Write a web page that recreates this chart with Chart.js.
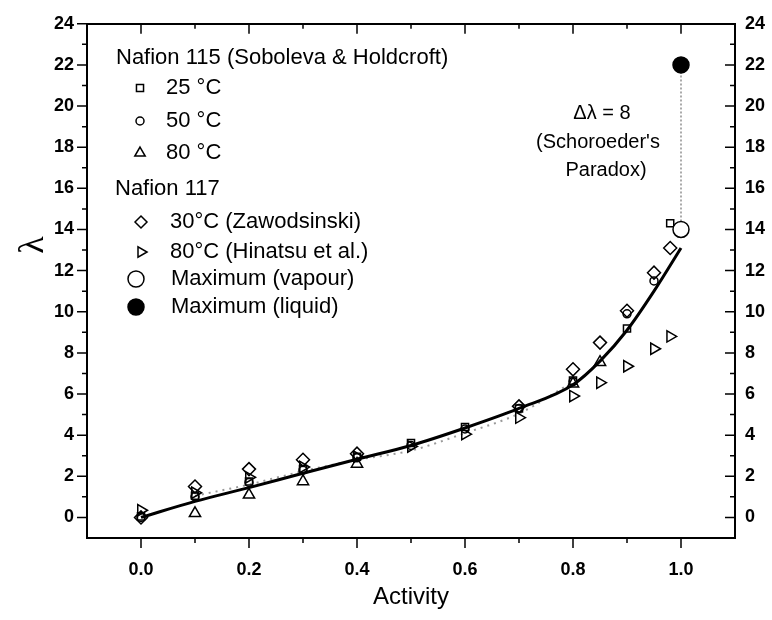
<!DOCTYPE html>
<html>
<head>
<meta charset="utf-8">
<script src="https://cdn.jsdelivr.net/npm/chart.js@4.4.0/dist/chart.umd.min.js"></script>
<style>
html, body { margin: 0; padding: 0; background: #fff; }
</style>
</head>
<body>
<canvas id="chart" width="772" height="620"></canvas>
<script>
// water activity (x) and lambda (y)
var a25 = [0, 0.1, 0.2, 0.3, 0.4, 0.5, 0.6, 0.7, 0.8, 0.9, 0.98];
var lam25 = [0.05, 1.05, 1.75, 2.35, 2.95, 3.62, 4.4, 5.3, 6.65, 9.19, 14.3];
var a50 = [0, 0.1, 0.2, 0.3, 0.4, 0.5, 0.6, 0.7, 0.8, 0.9, 0.95];
var lam50 = [0, 1.0, 1.7, 2.3, 2.9, 3.5, 4.3, 5.3, 6.6, 9.9, 11.5];
var a80 = [0.1, 0.2, 0.3, 0.4, 0.8, 0.85];
var lam80 = [0.2, 1.1, 1.75, 2.6, 6.5, 7.55];
var aZaw = [0, 0.1, 0.2, 0.3, 0.4, 0.7, 0.8, 0.85, 0.9, 0.95, 0.98];
var lamZaw = [0, 1.5, 2.35, 2.8, 3.1, 5.4, 7.2, 8.5, 10.05, 11.9, 13.1];
var aHin = [0, 0.1, 0.2, 0.3, 0.4, 0.5, 0.6, 0.7, 0.8, 0.85, 0.9, 0.95, 0.98];
var lamHin = [0.35, 1.2, 1.95, 2.45, 2.95, 3.45, 4.05, 4.85, 5.9, 6.55, 7.35, 8.2, 8.8];
var aVap = [1.0];
var lamVap = [14.0];
var aLiq = [1.0];
var lamLiq = [22.0];
// fitted curve (solid) and the dotted curve
var aFit = [0, 0.1, 0.2, 0.3, 0.4, 0.5, 0.6, 0.7, 0.8, 0.85, 0.9, 0.95, 1.0];
var lamFit = [0, 0.78, 1.45, 2.15, 2.83, 3.5, 4.35, 5.3, 6.45, 7.6, 9.1, 11.0, 13.1];
var aDot = [0.1, 0.2, 0.3, 0.4, 0.5, 0.6, 0.7, 0.8];
var lamDot = [1.05, 1.6, 2.25, 2.8, 3.25, 4.1, 5.05, 6.6];
// Schroeder's paradox gap
var aGap = [1.0, 1.0];
var lamGap = [14.0, 22.0];

var xTicks = [0, 0.2, 0.4, 0.6, 0.8, 1.0];
var xMinor = [0.1, 0.3, 0.5, 0.7, 0.9];
var yTicks = [0, 2, 4, 6, 8, 10, 12, 14, 16, 18, 20, 22, 24];
var yMinor = [1, 3, 5, 7, 9, 11, 13, 15, 17, 19, 21, 23];

var FONT = "'Liberation Sans', Arial, sans-serif";

function pts(xs, ys) {
    return xs.map(function (x, i) { return {x: x, y: ys[i]}; });
}

function marker(data, style, r, rot, fill) {
    return {
        type: 'scatter',
        data: data,
        showLine: false,
        pointStyle: style,
        pointRadius: r,
        pointRotation: rot || 0,
        pointBorderColor: '#000',
        pointBackgroundColor: fill || 'rgba(0,0,0,0)',
        pointBorderWidth: 1.5
    };
}

// ticks on all four sides, bottom/left outward, top/right inward
var tickMarks = {
    id: 'tickMarks',
    afterDraw: function (chart) {
        var ctx = chart.ctx, a = chart.chartArea;
        var xs = chart.scales.x, ys = chart.scales.y;
        ctx.save();
        ctx.strokeStyle = '#000';
        ctx.lineWidth = 1.5;
        ctx.beginPath();
        function xt(v, len) {
            var px = xs.getPixelForValue(v);
            ctx.moveTo(px, a.bottom); ctx.lineTo(px, a.bottom + len);
            ctx.moveTo(px, a.top); ctx.lineTo(px, a.top + len);
        }
        function yt(v, len) {
            var py = ys.getPixelForValue(v);
            ctx.moveTo(a.left, py); ctx.lineTo(a.left - len, py);
            ctx.moveTo(a.right, py); ctx.lineTo(a.right - len, py);
        }
        xTicks.forEach(function (v) { xt(v, 10); });
        xMinor.forEach(function (v) { xt(v, 5); });
        yTicks.forEach(function (v) { yt(v, 10); });
        yMinor.forEach(function (v) { yt(v, 5); });
        ctx.stroke();
        ctx.restore();
    }
};

var legendItems = [
    {text: 'Nafion 115 (Soboleva & Holdcroft)', tx: 116, y: 58},
    {text: '25 °C', tx: 166, mx: 140, y: 88, style: 'rect', r: 5},
    {text: '50 °C', tx: 166, mx: 140, y: 121, style: 'circle', r: 4},
    {text: '80 °C', tx: 166, mx: 140, y: 153, style: 'triangle', r: 6},
    {text: 'Nafion 117', tx: 115, y: 189},
    {text: '30°C (Zawodsinski)', tx: 170, mx: 141, y: 222, style: 'rectRot', r: 6},
    {text: '80°C (Hinatsu et al.)', tx: 170, mx: 141, y: 252, style: 'triangle', r: 6, rot: 90},
    {text: 'Maximum (vapour)', tx: 171, mx: 136, y: 279, style: 'circle', r: 8, fill: '#fff'},
    {text: 'Maximum (liquid)', tx: 171, mx: 136, y: 307, style: 'circle', r: 8, fill: '#000'}
];

var notes = {
    id: 'notes',
    afterDraw: function (chart) {
        var ctx = chart.ctx;
        ctx.save();
        ctx.fillStyle = '#000';
        ctx.textBaseline = 'middle';
        ctx.textAlign = 'left';
        ctx.font = '22px ' + FONT;
        legendItems.forEach(function (it) {
            ctx.fillStyle = '#000';
            ctx.fillText(it.text, it.tx, it.y);
            if (it.style) {
                ctx.strokeStyle = '#000';
                ctx.lineWidth = 1.5;
                ctx.fillStyle = it.fill || 'rgba(0,0,0,0)';
                Chart.helpers.drawPoint(ctx, {pointStyle: it.style, radius: it.r, rotation: it.rot || 0, borderWidth: 1.5}, it.mx, it.y);
            }
        });
        ctx.fillStyle = '#000';
        ctx.textAlign = 'center';
        ctx.font = '20px ' + FONT;
        ctx.fillText('\u0394\u03bb = 8', 602, 113);
        ctx.fillText("(Schoroeder's", 598, 142);
        ctx.fillText('Paradox)', 606, 170);
        // y axis title
        ctx.translate(34, 245);
        ctx.rotate(-Math.PI / 2);
        ctx.font = "36px 'Liberation Serif', 'DejaVu Serif', serif";
        ctx.fillText('\u03bb', 0, 0);
        ctx.restore();
    }
};

var tickFont = {family: FONT, size: 18, weight: 'bold'};

var config = {
    data: {
        datasets: [
            marker(pts(aLiq, lamLiq), 'circle', 8, 0, '#000'),
            marker(pts(aVap, lamVap), 'circle', 8, 0, '#fff'),
            marker(pts(a25, lam25), 'rect', 5),
            marker(pts(a50, lam50), 'circle', 4),
            marker(pts(a80, lam80), 'triangle', 6.5),
            marker(pts(aZaw, lamZaw), 'rectRot', 6.5),
            marker(pts(aHin, lamHin), 'triangle', 6.5, 90),
            {
                type: 'line',
                data: pts(aFit, lamFit),
                borderColor: '#000',
                borderWidth: 3,
                pointRadius: 0,
                cubicInterpolationMode: 'monotone',
                fill: false
            },
            {
                type: 'line',
                data: pts(aDot, lamDot),
                borderColor: '#9a9a9a',
                borderWidth: 2,
                borderDash: [2, 5],
                pointRadius: 0,
                cubicInterpolationMode: 'monotone',
                fill: false
            },
            {
                type: 'line',
                data: pts(aGap, lamGap),
                borderColor: '#aaaaaa',
                borderWidth: 2,
                borderDash: [2, 2],
                pointRadius: 0,
                fill: false
            }
        ]
    },
    options: {
        responsive: false,
        animation: false,
        layout: {padding: 0},
        plugins: {
            legend: {display: false},
            tooltip: {enabled: false}
        },
        scales: {
            x: {
                type: 'linear',
                position: 'bottom',
                min: -0.1,
                max: 1.1,
                afterBuildTicks: function (s) { s.ticks = xTicks.map(function (v) { return {value: v}; }); },
                afterFit: function (s) { s.height = 82; },
                grid: {display: false, drawTicks: false},
                border: {display: true, color: '#000', width: 2},
                ticks: {
                    color: '#000',
                    font: tickFont,
                    padding: 21,
                    maxRotation: 0,
                    callback: function (v) { return v.toFixed(1); }
                },
                title: {
                    display: true,
                    text: 'Activity',
                    color: '#000',
                    font: {family: FONT, size: 24},
                    padding: {top: 0, bottom: 8}
                }
            },
            x2: {
                type: 'linear',
                position: 'top',
                min: -0.1,
                max: 1.1,
                afterFit: function (s) { s.height = 20; },
                grid: {display: false, drawTicks: false},
                border: {display: true, color: '#000', width: 2},
                ticks: {display: false}
            },
            y: {
                type: 'linear',
                position: 'left',
                min: -1,
                max: 24,
                afterBuildTicks: function (s) { s.ticks = yTicks.map(function (v) { return {value: v}; }); },
                afterFit: function (s) { s.width = 87; },
                grid: {display: false, drawTicks: false},
                border: {display: true, color: '#000', width: 2},
                ticks: {color: '#000', font: tickFont, padding: 13}
            },
            y2: {
                type: 'linear',
                position: 'right',
                min: -1,
                max: 24,
                afterBuildTicks: function (s) { s.ticks = yTicks.map(function (v) { return {value: v}; }); },
                afterFit: function (s) { s.width = 37; },
                grid: {display: false, drawTicks: false},
                border: {display: true, color: '#000', width: 2},
                ticks: {color: '#000', font: tickFont, padding: 10}
            }
        }
    },
    plugins: [tickMarks, notes]
};

var ctx = document.getElementById('chart');
window.myChart = new Chart(ctx, config);
</script>
</body>
</html>
